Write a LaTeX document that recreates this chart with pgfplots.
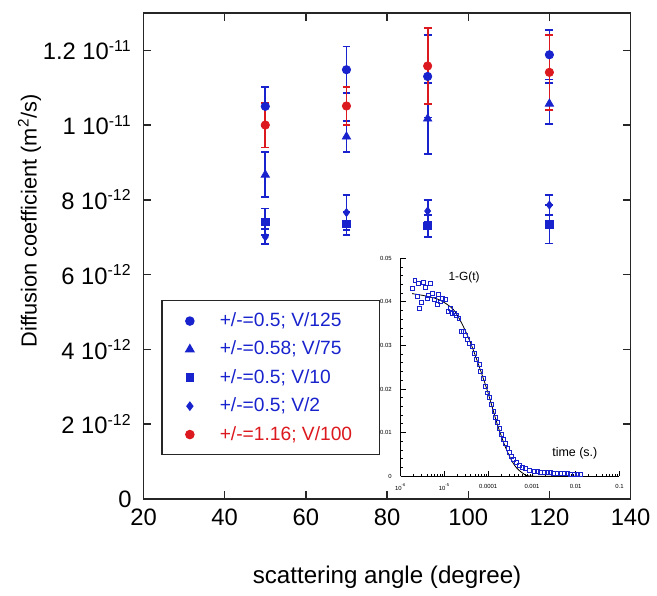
\documentclass[border=0pt]{standalone}
\usepackage{fontspec}
\setmainfont{Liberation Sans}
\usepackage{pgfplots}
\pgfplotsset{compat=1.18}
\definecolor{dblue}{RGB}{25,35,205}
\definecolor{dred}{RGB}{220,25,30}
\newcommand{\sq}[1]{\textsuperscript{#1}}

\begin{document}
\begin{tikzpicture}
\begin{axis}[
    name=main,
    scale only axis,
    width=246pt, height=245.5pt,
    xmin=20, xmax=140, ymin=0, ymax=13,
    clip=false,
    axis line style={line width=0.7pt, black!85},
    every tick/.style={line width=0.7pt, black!85},
    major tick length=4pt,
    tick label style={font=\fontsize{12}{14}\selectfont},
    yticklabel style={xshift=-2.5pt},
    xticklabel style={yshift=-1.5pt},
    xtick={20,40,60,80,100,120,140},
    xticklabels={20,40,60,80,100,120,140},
    ytick={0,2,4,6,8,10,12},
    yticklabels={0, 2 10\sq{-12}, 4 10\sq{-12}, 6 10\sq{-12}, 8 10\sq{-12}, 1 10\sq{-11}, 1.2 10\sq{-11}},
    xlabel={scattering angle (degree)},
    ylabel={Diffusion coefficient (m\sq{2}/s)},
    xlabel style={at={(axis description cs:0.5,-0.161)}, anchor=center, font=\fontsize{12.2}{14}\selectfont},
    ylabel style={at={(axis description cs:-0.234,0.572)}, anchor=center, font=\fontsize{11}{13}\selectfont},
    legend style={at={(0.0366,0.409)}, anchor=north west, draw=black!85, line width=0.6pt,
        font=\fontsize{9.7}{11}\selectfont, inner xsep=12pt, inner ysep=4pt, row sep=1.8pt,
        column sep=11pt, cells={anchor=west}},
    error bars/error bar style={line width=0.9pt},
    error bars/error mark options={rotate=90, mark size=2pt, line width=0.9pt},
]

\addplot[dblue, only marks, mark=*, mark size=2.1pt,
    error bars/.cd, y dir=both, y explicit] coordinates {
    (50,10.50) +- (0,0.52)
    (70,11.48) +- (0,0.62)
    (90,11.30) +- (0,1.10)
    (120,11.88) +- (0,0.66)
};
\addlegendentry{\textcolor{dblue}{+/-=0.5; V/125}}

\addplot[dblue, only marks, mark=triangle*, mark size=2.4pt,
    error bars/.cd, y dir=both, y explicit] coordinates {
    (50,8.67) +- (0,0.60)
    (70,9.69) +- (0,0.41)
    (90,10.17) +- (0,0.95)
    (120,10.57) +- (0,0.55)
};
\addlegendentry{\textcolor{dblue}{+/-=0.58; V/75}}

\addplot[dblue, only marks, mark=square*, mark size=1.9pt,
    error bars/.cd, y dir=both, y explicit] coordinates {
    (50,7.41) +- (0,0.36)
    (70,7.36) +- (0,0.31)
    (90,7.30) +- (0,0.29)
    (120,7.35) +- (0,0.52)
};
\addlegendentry{\textcolor{dblue}{+/-=0.5; V/10}}

\addplot[dblue, only marks, mark=diamond*, mark size=2pt,
    error bars/.cd, y dir=both, y explicit] coordinates {
    (50,7.01) +- (0,0.20)
    (70,7.66) +- (0,0.46)
    (90,7.70) +- (0,0.29)
    (120,7.86) +- (0,0.27)
};
\addlegendentry{\textcolor{dblue}{+/-=0.5; V/2}}

\addplot[dred, only marks, mark=*, mark size=2.1pt,
    error bars/.cd, y dir=both, y explicit] coordinates {
    (50,10.00) +- (0,0.60)
    (70,10.51) +- (0,0.50)
    (90,11.58) +- (0,1.01)
    (120,11.41) +- (0,1.00)
};
\addlegendentry{\textcolor{dred}{+/-=1.16; V/100}}

\coordinate (insetSW) at (rel axis cs:0.528,0.047);
\path (rel axis cs:-0.2947,-0.169) rectangle (rel axis cs:1.0407,1.0265);
\end{axis}

\begin{axis}[
    at={(insetSW)}, anchor=south west,
    scale only axis,
    width=110.5pt, height=110pt,
    xmode=log,
    xmin=1e-6, xmax=0.1, ymin=0, ymax=0.05,
    scaled y ticks=false,
    axis x line*=bottom, axis y line*=left,
    axis line style={-, line width=0.5pt, black},
    every tick/.style={line width=0.4pt, black},
    tick align=inside,
    major tick length=2.5pt, minor tick length=1.2pt,
    font=\fontsize{3}{3.5}\selectfont,
    ytick={0,0.01,0.02,0.03,0.04,0.05},
    yticklabels={0,0.01,0.02,0.03,0.04,0.05},
    minor y tick num=4,
    xtick={1e-6,1e-5,1e-4,1e-3,1e-2,1e-1},
    xticklabels={10\sq{-6},10\sq{-5},0.0001,0.001,0.01,0.1},
    yticklabel style={xshift=-1pt},
    xticklabel style={yshift=-0.5pt},
]
\addplot[dblue, only marks, mark=square, mark size=1pt, mark options={line width=0.4pt}] coordinates {
    (1.84e-6,0.0432) (2.11e-6,0.0449) (2.40e-6,0.0413) (2.51e-6,0.0442)
    (2.69e-6,0.0385) (2.99e-6,0.0398) (3.24e-6,0.0444) (3.67e-6,0.0434)
    (3.98e-6,0.0408) (4.37e-6,0.0415) (4.79e-6,0.0442) (5.25e-6,0.0420)
    (6.03e-6,0.0405) (6.76e-6,0.0395) (7.41e-6,0.0417) (7.94e-6,0.0400)
    (9.12e-6,0.0407) (1.05e-5,0.0405) (1.20e-5,0.0379) (1.35e-5,0.0386)
    (1.48e-5,0.0373) (1.70e-5,0.0373) (1.91e-5,0.0370) (2.14e-5,0.0362)
    (2.45e-5,0.0333) (2.69e-5,0.0332) (2.95e-5,0.0324) (3.39e-5,0.0313)
    (3.80e-5,0.0305) (4.37e-5,0.0297) (4.79e-5,0.0282) (5.37e-5,0.0267)
    (6.17e-5,0.0256) (6.76e-5,0.0241) (7.59e-5,0.0225) (8.71e-5,0.0206)
    (9.55e-5,0.0191) (1.07e-4,0.0180) (1.17e-4,0.0165) (1.35e-4,0.0149)
    (1.45e-4,0.0134) (1.62e-4,0.0123) (1.82e-4,0.0109) (2.00e-4,0.0096)
    (2.24e-4,0.0085) (2.45e-4,0.0074) (2.82e-4,0.0064) (3.09e-4,0.0055)
    (3.47e-4,0.0046) (3.80e-4,0.0038) (4.37e-4,0.0032) (5.13e-4,0.0024)
    (6.17e-4,0.0020) (7.24e-4,0.0017) (8.71e-4,0.0013) (1.12e-3,0.0011)
    (1.35e-3,0.0010) (1.58e-3,0.0009) (1.90e-3,0.0009) (2.24e-3,0.0008)
    (2.70e-3,0.0008) (3.16e-3,0.0007) (3.80e-3,0.0007) (4.47e-3,0.0006)
    (5.40e-3,0.0006) (6.46e-3,0.0006) (7.70e-3,0.0005) (9.12e-3,0.0005)
    (1.10e-2,0.0005) (1.29e-2,0.0005)
};
\addplot[black, line width=0.4pt, smooth] coordinates {
    (1.82e-6,0.0419) (3.98e-6,0.0413) (7.94e-6,0.0404) (1.58e-5,0.0383)
    (2.51e-5,0.0350) (3.98e-5,0.0305) (6.31e-5,0.0250) (1.0e-4,0.0190)
    (1.58e-4,0.0122) (2.51e-4,0.0065) (3.98e-4,0.0025) (6.31e-4,0.0006)
    (1.0e-3,0.0000) (1.26e-2,0.0000)
};
\node[font=\fontsize{6}{7}\selectfont] at (rel axis cs:0.29,0.914) {1-G(t)};
\node[font=\fontsize{6.3}{7}\selectfont] at (rel axis cs:0.796,0.105) {time (s.)};
\end{axis}
\end{tikzpicture}
\end{document}
